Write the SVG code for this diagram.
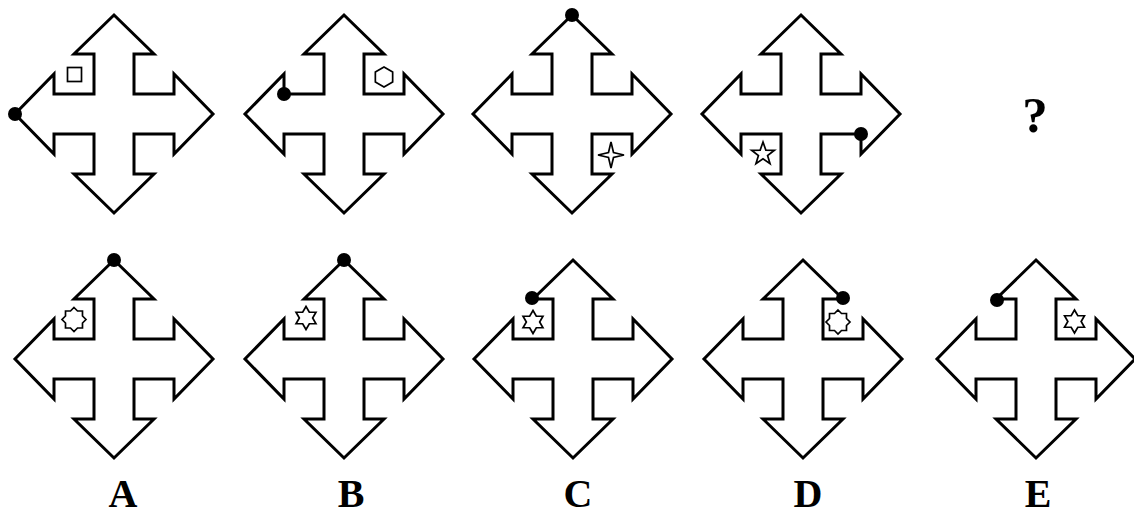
<svg xmlns="http://www.w3.org/2000/svg" xmlns:xlink="http://www.w3.org/1999/xlink" width="1134" height="517" viewBox="0 0 1134 517">
<style>
.cross{fill:#fff;stroke:#000;stroke-width:3;stroke-linejoin:miter}
.sym{fill:none;stroke:#000;stroke-width:1.7;stroke-linejoin:miter}
.dot{fill:#000}
.lbl{font-family:"Liberation Serif","Times New Roman",serif;font-weight:bold;font-size:40px;fill:#000;text-anchor:middle}
</style>
<defs>
<path id="cross" d="M0,-99 L40,-60 L20,-60 L20,-20 L60,-20 L60,-40 L99,0 L60,40 L60,20 L20,20 L20,60 L40,60 L0,99 L-40,60 L-20,60 L-20,20 L-60,20 L-60,40 L-99,0 L-60,-40 L-60,-20 L-20,-20 L-20,-60 L-40,-60 Z"/>
<polygon id="hex" points="0,-10 8.66,-5 8.66,5 0,10 -8.66,5 -8.66,-5"/>
<polygon id="star4" points="0,-13 2.5,-2.5 13,0 2.5,2.5 0,13 -2.5,2.5 -13,0 -2.5,-2.5"/>
<polygon id="star5" points="0,-12 2.82,-3.88 11.41,-3.71 4.57,1.48 7.05,9.71 0,4.8 -7.05,9.71 -4.57,1.48 -11.41,-3.71 -2.82,-3.88"/>
<polygon id="star8" points="0,-12 3.52,-8.5 8.49,-8.49 8.5,-3.52 12,0 8.5,3.52 8.49,8.49 3.52,8.5 0,12 -3.52,8.5 -8.49,8.49 -8.5,3.52 -12,0 -8.5,-3.52 -8.49,-8.49 -3.52,-8.5"/>
<polygon id="star6" points="0,-11.5 3.32,-5.75 9.96,-5.75 6.64,0 9.96,5.75 3.32,5.75 0,11.5 -3.32,5.75 -9.96,5.75 -6.64,0 -9.96,-5.75 -3.32,-5.75"/>
</defs>
<rect width="1134" height="517" fill="#fff"/>

<g id="q1">
<use href="#cross" class="cross" transform="translate(114,114)"/>
<rect class="sym" x="67.5" y="67.5" width="14" height="14"/>
<circle class="dot" cx="15" cy="114" r="7"/>
</g>
<g id="q2">
<use href="#cross" class="cross" transform="translate(344,114)"/>
<use href="#hex" class="sym" transform="translate(384,77)"/>
<circle class="dot" cx="284" cy="94" r="7"/>
</g>
<g id="q3">
<use href="#cross" class="cross" transform="translate(572,114)"/>
<use href="#star4" class="sym" transform="translate(611,155)"/>
<circle class="dot" cx="572" cy="15" r="7"/>
</g>
<g id="q4">
<use href="#cross" class="cross" transform="translate(801,114)"/>
<use href="#star5" class="sym" transform="translate(763,154)"/>
<circle class="dot" cx="861" cy="134" r="7"/>
</g>
<g id="q5">
<text x="1035" y="132" class="lbl" style="font-size:51px">?</text>
</g>

<g id="optA">
<use href="#cross" class="cross" transform="translate(114,359)"/>
<use href="#star8" class="sym" transform="translate(74,319.5)"/>
<circle class="dot" cx="114" cy="260" r="7"/>
<text x="123" y="507" class="lbl">A</text>
</g>
<g id="optB">
<use href="#cross" class="cross" transform="translate(344,359)"/>
<use href="#star6" class="sym" transform="translate(306,318)"/>
<circle class="dot" cx="344" cy="260" r="7"/>
<text x="351" y="507" class="lbl">B</text>
</g>
<g id="optC">
<use href="#cross" class="cross" transform="translate(573,359)"/>
<use href="#star6" class="sym" transform="translate(533,322)"/>
<circle class="dot" cx="532" cy="298" r="7"/>
<text x="578" y="507" class="lbl">C</text>
</g>
<g id="optD">
<use href="#cross" class="cross" transform="translate(803,359)"/>
<use href="#star8" class="sym" transform="translate(838,322)"/>
<circle class="dot" cx="843" cy="298" r="7"/>
<text x="808" y="507" class="lbl">D</text>
</g>
<g id="optE">
<use href="#cross" class="cross" transform="translate(1036,359)"/>
<use href="#star6" class="sym" transform="translate(1074.5,321.5)"/>
<circle class="dot" cx="997" cy="300" r="7"/>
<text x="1038" y="507" class="lbl">E</text>
</g>
<g id="connectors"/>
</svg>
